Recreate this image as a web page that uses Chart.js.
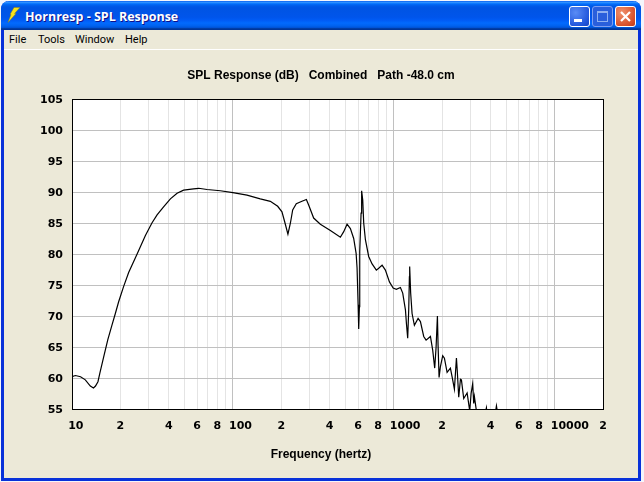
<!DOCTYPE html>
<html>
<head>
<meta charset="utf-8">
<title>Hornresp - SPL Response</title>
<script src="https://cdn.jsdelivr.net/npm/chart.js@4"></script>
<style>
html, body { margin: 0; padding: 0; width: 644px; height: 482px; overflow: hidden; background: #f4f5fb; }
#win { position: absolute; left: 1px; top: 1px; width: 640px; height: 480px; box-sizing: border-box;
  background: #ece9d8; border: 3px solid #0831d9; border-top: 0; border-radius: 8px 8px 0 0; }
#bar { position: absolute; left: -3px; top: 0; width: 640px; height: 29px; border-radius: 8px 8px 0 0;
  background: linear-gradient(#0058ee 0%, #3593ff 4%, #288eff 6%, #127dff 8%, #036ffc 10%, #0262ee 14%, #0057e5 20%, #0054e3 24%, #0055eb 56%, #005bf5 66%, #026afe 76%, #0062ef 86%, #0052d6 92%, #0040ab 94%, #003092 100%); }
#caption { position: absolute; left: 24px; top: 7px; color: #fff; font: bold 12.5px "Open Sans"; text-shadow: 1px 1px #0f1089; white-space: nowrap; }
#icon { position: absolute; left: 6px; top: 6px; }
.btn { position: absolute; top: 5px; width: 21px; height: 21px; box-sizing: border-box; border: 1px solid #fff; border-radius: 3px; }
#bmin { left: 568px; background: radial-gradient(circle at 30% 30%, #5a8cf5, #2257dc 70%, #1a45c0); }
#bmax { left: 591px; background: #2a5fdc; border-color: #7f9ff0; }
#bclose { left: 614px; background: radial-gradient(circle at 30% 30%, #f0926e, #d9502a 70%, #b93a18); }
#menu { position: absolute; left: 0; top: 29px; width: 634px; height: 19px; border-bottom: 1px solid #fff; font: 11px Roboto; color: #000; }
#menu span { position: absolute; top: 3px; }
canvas { position: absolute; left: 0; top: 0; }
</style>
</head>
<body>
<div id="win">
  <div id="bar">
    <svg id="icon" width="14" height="16" viewBox="0 0 14 16"><path d="M7 0.5 L13 0.5 L7.5 6.5 L9 6.5 L1 15.5 L4 7.5 L3 7.5 Z" fill="#f7e21c" stroke="#8a7a10" stroke-width="0.4"/></svg>
    <div id="caption">Hornresp - SPL Response</div>
    <div class="btn" id="bmin"><svg width="19" height="19"><rect x="4" y="12" width="8" height="3" fill="#fff"/></svg></div>
    <div class="btn" id="bmax"><svg width="19" height="19"><rect x="4.5" y="4.5" width="10" height="10" fill="none" stroke="#8fb0f0"/><rect x="4" y="4" width="11" height="2" fill="#8fb0f0"/></svg></div>
    <div class="btn" id="bclose"><svg width="19" height="19"><path d="M5 5 L14 14 M14 5 L5 14" stroke="#fff" stroke-width="2.2"/></svg></div>
  </div>
  <div id="menu">
    <span style="left:5px">File</span><span style="left:34px">Tools</span><span style="left:71px">Window</span><span style="left:121px">Help</span>
  </div>
</div>
<canvas id="splChart" width="644" height="482"></canvas>
<script>
const frequency = [10, 10.5, 11.3, 12.1, 13, 13.6, 14, 14.5, 14.9, 15.7, 16.7, 17.7, 18.6, 19.5, 20.9, 22.5, 25.4, 28.6, 31.4, 33.8,
  37.1, 40.9, 45, 49.4, 57, 61.3, 69.1, 83.6, 100, 122.5, 148, 171, 190, 202, 210, 220, 228, 235.5, 248, 269, 286.5,
  296, 318, 350, 404, 466, 489, 513, 538, 564, 584, 592, 601, 606, 612, 615, 627, 632, 642, 651, 667,
  699, 734, 780, 807, 847, 888, 941, 992, 1039, 1101, 1138, 1183, 1200, 1222, 1240, 1252, 1257, 1275, 1301, 1345,
  1418, 1466, 1537, 1590, 1692, 1748, 1799, 1835, 1870, 1888, 1915, 1951, 2017, 2067, 2148, 2252, 2308, 2385, 2455, 2483,
  2537, 2600, 2637, 2725, 2861, 2969, 3029, 3099, 3144, 3176, 3268, 3365, 3613, 3771, 3825, 3992, 4236, 4353, 4446, 4613,
  6000, 10000, 20000];
const spl = [60.2, 60.4, 60.2, 59.7, 58.7, 58.4, 58.7, 59.4, 60.8, 63.3, 66.2, 68.5, 70.4, 72.3, 74.7, 77, 80, 83, 85, 86.3,
  87.6, 88.9, 89.8, 90.3, 90.5, 90.6, 90.4, 90.2, 89.9, 89.5, 88.9, 88.5, 87.7, 86.8, 85.2, 83.2, 85, 87.1, 88.1, 88.5, 88.8,
  87.9, 85.8, 84.8, 83.8, 82.7, 83.6, 84.8, 84.1, 82.5, 80.1, 77.7, 71.8, 67.9, 71.5, 80.4, 86.6, 90.2, 88.7, 85, 82.3,
  79.6, 78.4, 77.4, 77.7, 78.2, 77.4, 75.5, 74.5, 74.3, 74.6, 73.7, 71, 68.8, 66.4, 71, 76.3, 78, 73.7, 70.4, 68.5,
  69.6, 69.1, 66.7, 66.1, 66.7, 64.5, 61.6, 65, 70, 65.2, 60.1, 61.8, 63.6, 63.2, 60.9, 61.6, 60.2, 58.2, 63.2, 61.3,
  56.9, 59.8, 59.7, 56.7, 57.6, 54.7, 57.5, 59.1, 55.9, 57, 54.7, 54, 53, 55.2, 53.5, 53, 53.5, 55.5, 54, 52,
  49, 45, 40];
const xGridValues = [10, 20, 30, 40, 50, 60, 70, 80, 90, 100, 200, 300, 400, 500, 600, 700, 800, 900,
  1000, 2000, 3000, 4000, 5000, 6000, 7000, 8000, 9000, 10000, 20000];
const xLabelled = [10, 20, 40, 60, 80, 100, 200, 400, 600, 800, 1000, 2000, 4000, 6000, 8000, 10000, 20000];

const isDecade = v => [10, 100, 1000, 10000].includes(v);
const tickFont = { family: 'DejaVu Sans', size: 11, weight: 'bold' };
const titleFont = { family: 'Liberation Sans', size: 12, weight: 'bold', lineHeight: '14px' };

// white plot face and the black box round it
const plotBox = {
  id: 'plotBox',
  beforeDraw(chart) {
    const a = chart.chartArea;
    chart.ctx.fillStyle = '#fff';
    chart.ctx.fillRect(a.left, a.top, a.width, a.height);
  },
  afterDraw(chart) {
    const a = chart.chartArea, c = chart.ctx;
    c.save();
    c.strokeStyle = '#000';
    c.lineWidth = 1;
    c.strokeRect(a.left + 0.5, a.top + 0.5, a.width - 1, a.height);
    c.restore();
  }
};

new Chart(document.getElementById('splChart'), {
  type: 'line',
  data: {
    datasets: [{
      data: frequency.map((f, i) => ({ x: f, y: spl[i] })),
      borderColor: '#000',
      borderWidth: 1.2,
      pointRadius: 0,
      tension: 0,
      fill: false
    }]
  },
  plugins: [plotBox],
  options: {
    responsive: false,
    animation: false,
    layout: { padding: { left: 0, right: 2, top: 69, bottom: 20 } },
    plugins: {
      legend: { display: false },
      tooltip: { enabled: false },
      title: {
        display: true,
        text: 'SPL Response (dB)   Combined   Path -48.0 cm',
        color: '#000',
        font: titleFont,
        padding: { top: 0, bottom: 16 }
      },
      subtitle: {
        display: true,
        position: 'bottom',
        text: 'Frequency (hertz)',
        color: '#000',
        font: titleFont,
        padding: 0
      }
    },
    scales: {
      x: {
        type: 'logarithmic',
        min: 10,
        max: 20300,
        afterFit: s => { s.height = 39; },
        afterBuildTicks: s => { s.ticks = xGridValues.map(v => ({ value: v })); },
        border: { display: false },
        grid: {
          drawTicks: false,
          color: c => c.tick.value > 10000 ? 'rgba(0,0,0,0)' : isDecade(c.tick.value) ? '#c0c0c0' : '#e4e4e4'
        },
        ticks: {
          autoSkip: false,
          maxRotation: 0,
          padding: 11,
          color: '#000',
          font: tickFont,
          // decade labels start at their gridline instead of centring on it
          callback: v => !xLabelled.includes(v) ? '' : isDecade(v) ? ' '.repeat(2 * (String(v).length - 1)) + v : String(v).charAt(0)
        }
      },
      y: {
        min: 55,
        max: 105,
        afterFit: s => { s.width = 72; },
        border: { display: false },
        grid: { drawTicks: false, color: '#c0c0c0' },
        ticks: { stepSize: 5, padding: 9, labelOffset: 1, color: '#000', font: tickFont }
      },
      // empty axis holding the margin right of the plot, so the titles centre on the window
      margin: {
        position: 'right',
        afterFit: s => { s.width = 38; },
        border: { display: false },
        grid: { display: false },
        ticks: { display: false }
      }
    }
  }
});
</script>
</body>
</html>
